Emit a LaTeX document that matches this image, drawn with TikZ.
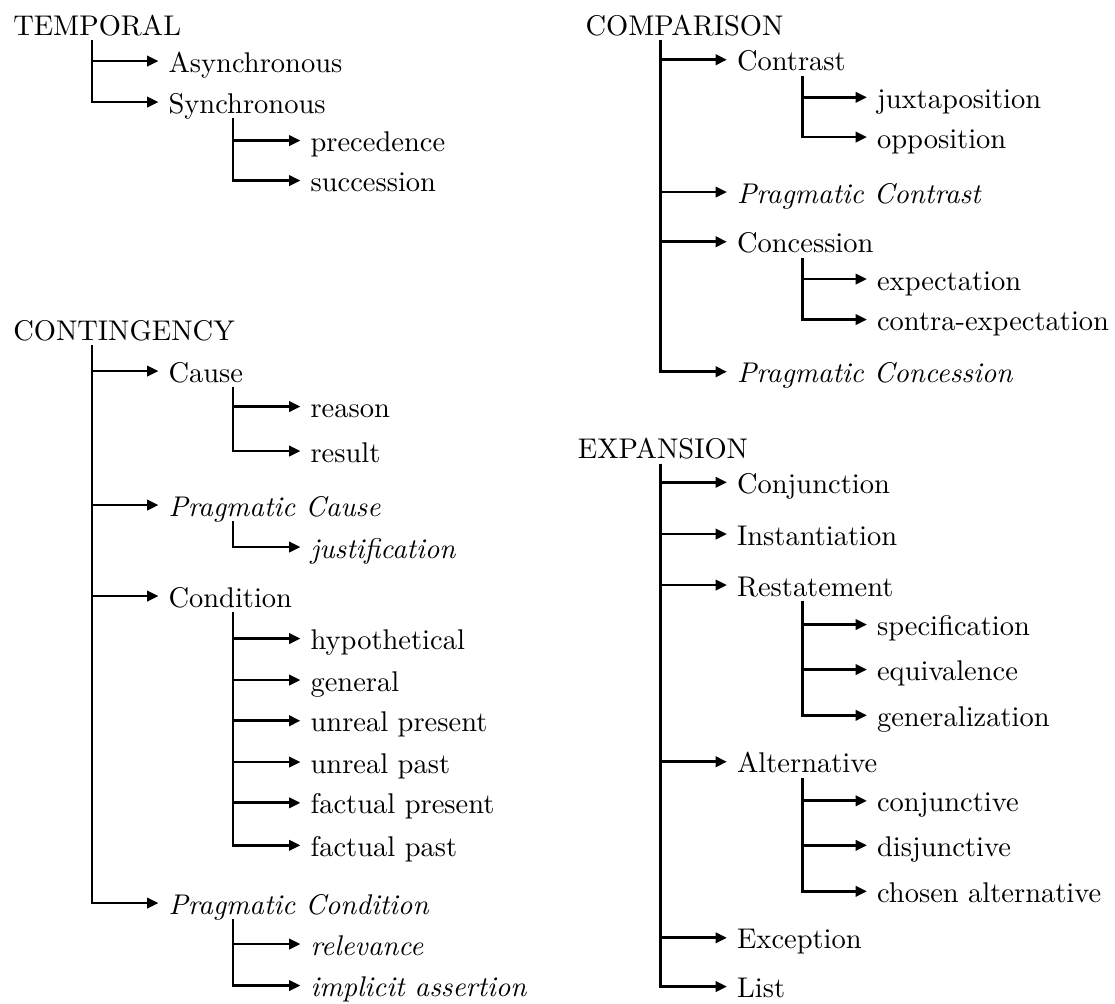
\documentclass[tikz,border=0pt]{standalone}
\usepackage{tikz}
\usetikzlibrary{arrows.meta}

\begin{document}
\begin{tikzpicture}[
    x=0.351pt, y=-0.351pt,
    lbl/.style={anchor=base west, inner ysep=0pt, text height=9.4pt, text depth=1.7pt},
    arr/.style={-{Triangle[length=4pt,width=3.6pt]}, line width=1pt}
  ]
    \useasboundingbox (0,0) rectangle (1115,1003);
    % spine columns
    \coordinate (L1) at (92,0);   \coordinate (L2) at (233,0);
    \coordinate (R1) at (660.5,0); \coordinate (R2) at (802.5,0);

    % TEMPORAL
    \node[lbl] (temp) at (3.2,35) {TEMPORAL};
    \node[lbl] (asyn) at (158.5,72) {Asynchronous};
    \node[lbl] (syn) at (158.5,113) {Synchronous};
    \node[lbl] (prec) at (300.5,151.5) {precedence};
    \node[lbl] (succ) at (300.5,191.5) {succession};
    \foreach \c in {asyn,syn} \draw[arr] (temp.south -| L1) |- (\c.west);
    \foreach \c in {prec,succ} \draw[arr] (syn.south -| L2) |- (\c.west);

    % CONTINGENCY
    \node[lbl] (cont) at (3.2,340) {CONTINGENCY};
    \node[lbl] (cause) at (158.5,382) {Cause};
    \node[lbl] (reason) at (300.5,417.5) {reason};
    \node[lbl] (result) at (300.5,462) {result};
    \node[lbl] (pcause) at (158.5,516) {\textit{Pragmatic Cause}};
    \node[lbl] (justif) at (300.5,558) {\textit{justification}};
    \node[lbl] (cond) at (158.5,607) {Condition};
    \node[lbl] (hypo) at (300.5,649.5) {hypothetical};
    \node[lbl] (gen) at (300.5,691) {general};
    \node[lbl] (upres) at (300.5,731.7) {unreal present};
    \node[lbl] (upast) at (300.5,773) {unreal past};
    \node[lbl] (fpres) at (300.5,813.8) {factual present};
    \node[lbl] (fpast) at (300.5,856.3) {factual past};
    \node[lbl] (pcond) at (158.5,914) {\textit{Pragmatic Condition}};
    \node[lbl] (relev) at (300.5,955) {\textit{relevance}};
    \node[lbl] (impl) at (300.5,996.5) {\textit{implicit assertion}};
    \foreach \c in {cause,pcause,cond,pcond} \draw[arr] (cont.south -| L1) |- (\c.west);
    \foreach \c in {reason,result} \draw[arr] (cause.south -| L2) |- (\c.west);
    \draw[arr] (pcause.south -| L2) |- (justif.west);
    \foreach \c in {hypo,gen,upres,upast,fpres,fpast} \draw[arr] (cond.south -| L2) |- (\c.west);
    \foreach \c in {relev,impl} \draw[arr] (pcond.south -| L2) |- (\c.west);

    % COMPARISON
    \node[lbl] (comp) at (575.5,35) {COMPARISON};
    \node[lbl] (contr) at (727,70.7) {Contrast};
    \node[lbl] (juxt) at (867,108.3) {juxtaposition};
    \node[lbl] (oppo) at (867,148) {opposition};
    \node[lbl] (pcontr) at (727,203) {\textit{Pragmatic Contrast}};
    \node[lbl] (conc) at (727,252.7) {Concession};
    \node[lbl] (expect) at (867,290) {expectation};
    \node[lbl] (cexpect) at (867,330.5) {contra-expectation};
    \node[lbl] (pconc) at (727,382.7) {\textit{Pragmatic Concession}};
    \foreach \c in {contr,pcontr,conc,pconc} \draw[arr] (comp.south -| R1) |- (\c.west);
    \foreach \c in {juxt,oppo} \draw[arr] (contr.south -| R2) |- (\c.west);
    \foreach \c in {expect,cexpect} \draw[arr] (conc.south -| R2) |- (\c.west);

    % EXPANSION
    \node[lbl] (expa) at (567.8,458.5) {EXPANSION};
    \node[lbl] (conj) at (727,493.3) {Conjunction};
    \node[lbl] (inst) at (727,545) {Instantiation};
    \node[lbl] (rest) at (727,596) {Restatement};
    \node[lbl] (spec) at (867,635.5) {specification};
    \node[lbl] (equiv) at (867,680.5) {equivalence};
    \node[lbl] (gener) at (867,726.3) {generalization};
    \node[lbl] (alt) at (727,772.7) {Alternative};
    \node[lbl] (conjv) at (867,811.8) {conjunctive};
    \node[lbl] (disj) at (867,856.3) {disjunctive};
    \node[lbl] (chosen) at (867,902.3) {chosen alternative};
    \node[lbl] (exce) at (727,948.8) {Exception};
    \node[lbl] (list) at (727,997.5) {List};
    \foreach \c in {conj,inst,rest,alt,exce,list} \draw[arr] (expa.south -| R1) |- (\c.west);
    \foreach \c in {spec,equiv,gener} \draw[arr] (rest.south -| R2) |- (\c.west);
    \foreach \c in {conjv,disj,chosen} \draw[arr] (alt.south -| R2) |- (\c.west);
  \end{tikzpicture}
\end{document}
